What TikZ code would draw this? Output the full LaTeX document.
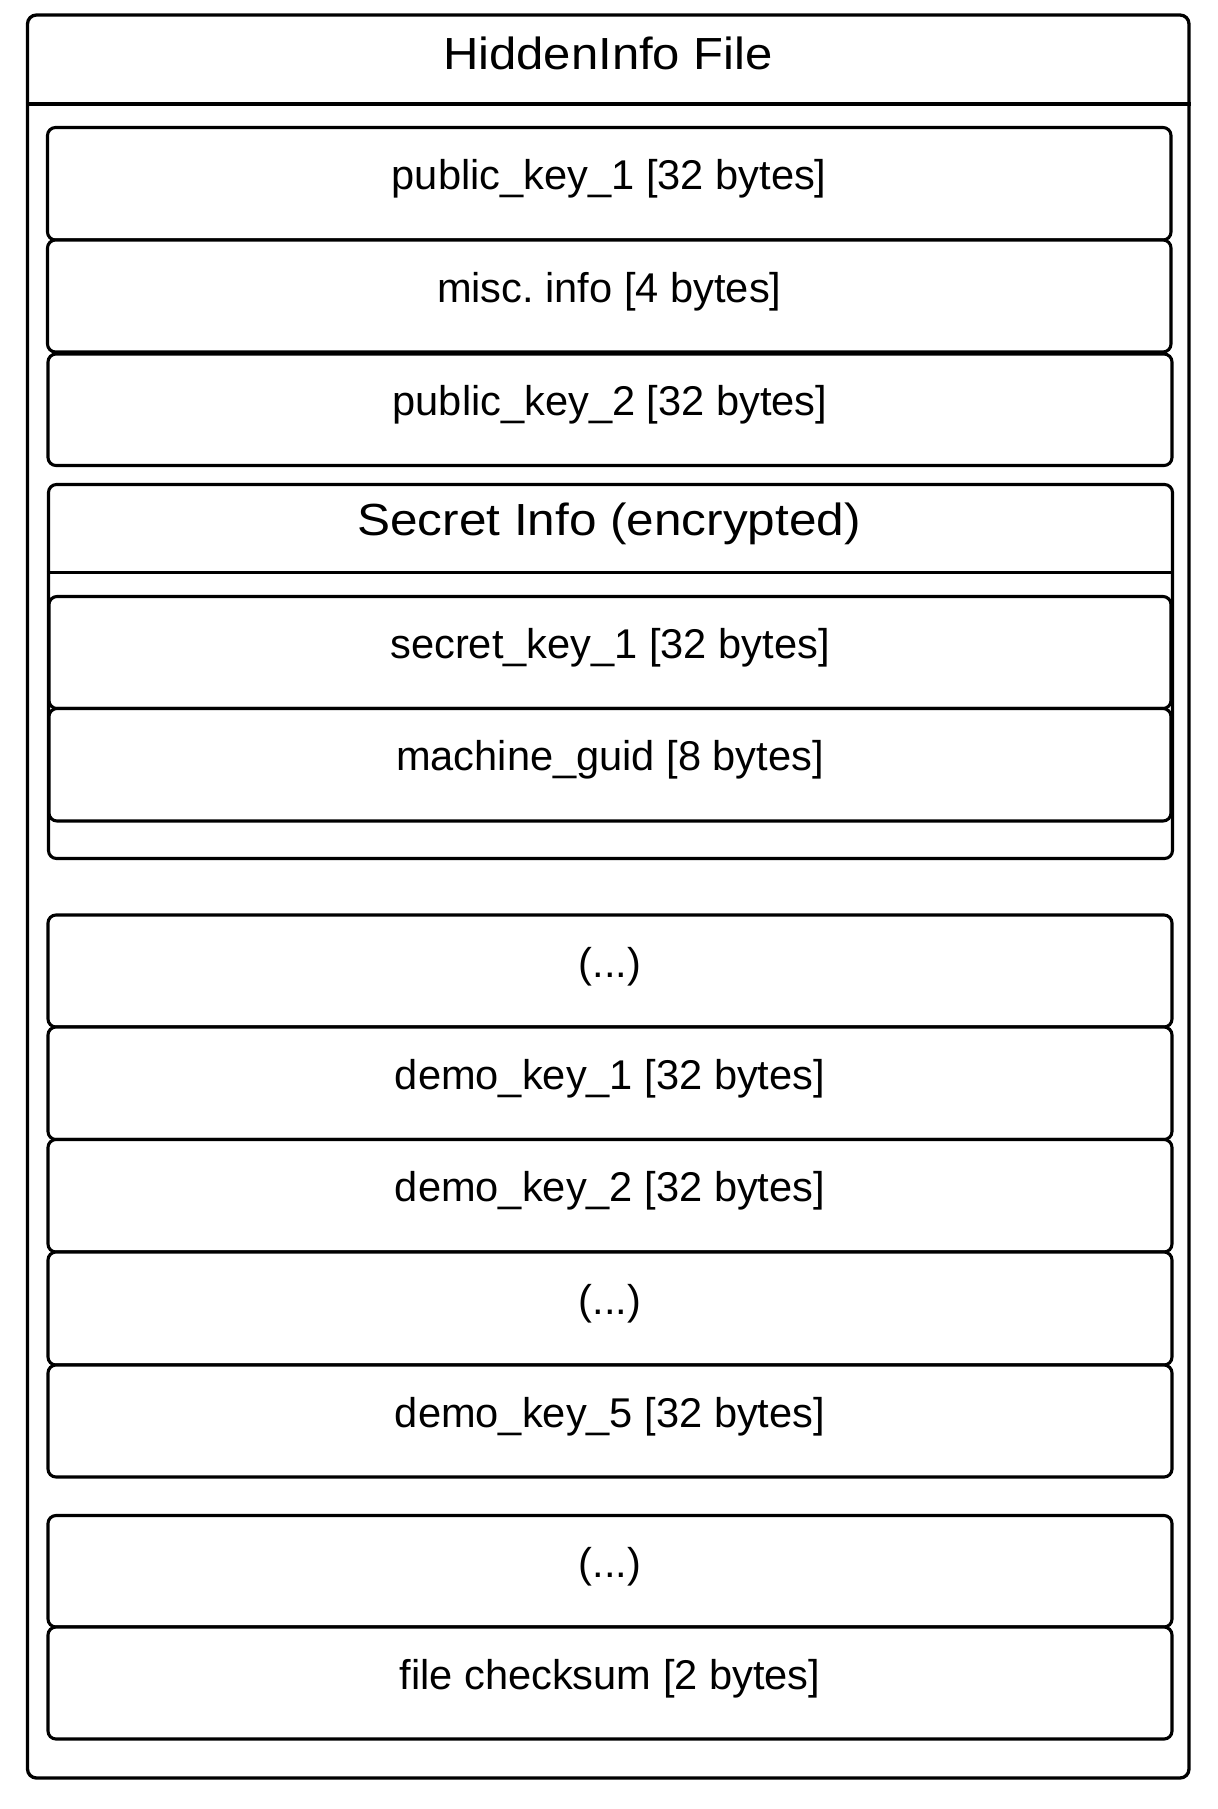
\documentclass[tikz,border=0pt]{standalone}
\usepackage{fontspec}
\usepackage{graphicx}
\setmainfont{Liberation Sans}
\frenchspacing
\usetikzlibrary{fit}
\tikzset{
  cell/.style={draw=black, line width=1.55pt, rounded corners=4pt, inner sep=0pt, fill=white},
  outerbox/.style={draw=black, line width=1.65pt, rounded corners=4.5pt, inner sep=0pt},
  txt/.style={anchor=base, inner sep=0pt, font=\fontsize{20.8pt}{24pt}\selectfont},
  sectxt/.style={anchor=base, inner sep=0pt, font=\fontsize{22.5pt}{26pt}\selectfont},
  rule/.style={draw=black, line width=1.55pt}
}
\begin{document}
\begin{tikzpicture}[x=0.5pt, y=-0.5pt]
\useasboundingbox (0,0) rectangle (1217,1809);
% outer file box
\node[outerbox, fit={(27.5,15) (1189,1778)}] (file) {};
\coordinate (hdrline) at (0,104);
\draw[rule, line width=1.65pt] (file.west |- hdrline) -- (file.east |- hdrline);
\node[sectxt] (title) at (608,70) {\scalebox{1.09}[1]{HiddenInfo File}};

% top group
\node[cell, fit={(47.5,127.5) (1171,240)}] (pk1) {};
\node[txt] (pk1t) at ([yshift=-3pt]pk1.center) {public\_key\_1 [32 bytes]};
\node[cell, fit={(47.5,240) (1171,352)}] (misc) {};
\node[txt] (misct) at ([yshift=-3pt]misc.center) {misc. info [4 bytes]};
\node[cell, fit={(48,354) (1172,465.5)}] (pk2) {};
\node[txt] (pk2t) at ([yshift=-3pt]pk2.center) {public\_key\_2 [32 bytes]};

% secret group
\node[cell, fit={(48.5,484.5) (1172.5,858.5)}] (secret) {};
\coordinate (sechdr) at (0,572.5);
\draw[rule] (secret.west |- sechdr) -- (secret.east |- sechdr);
\node[sectxt] (sect) at (609,535) {\scalebox{1.10}[1]{Secret Info (encrypted)}};
\node[cell, fit={(49,596.5) (1171,708.5)}] (sk1) {};
\node[txt] (sk1t) at ([yshift=-3pt]sk1.center) {secret\_key\_1 [32 bytes]};
\node[cell, fit={(49,708.5) (1171,821)}] (mg) {};
\node[txt] (mgt) at ([yshift=-3pt]mg.center) {machine\_guid [8 bytes]};

% demo group
\node[cell, fit={(48,915) (1172,1027)}] (dots1) {};
\node[txt] (dots1t) at ([yshift=-3pt]dots1.center) {(...)};
\node[cell, fit={(48,1027) (1172,1139.5)}] (dk1) {};
\node[txt] (dk1t) at ([yshift=-3pt]dk1.center) {demo\_key\_1 [32 bytes]};
\node[cell, fit={(48,1139.5) (1172,1252)}] (dk2) {};
\node[txt] (dk2t) at ([yshift=-3pt]dk2.center) {demo\_key\_2 [32 bytes]};
\node[cell, fit={(48,1252) (1172,1365)}] (dots2) {};
\node[txt] (dots2t) at ([yshift=-3pt]dots2.center) {(...)};
\node[cell, fit={(48,1365) (1172,1477)}] (dk5) {};
\node[txt] (dk5t) at ([yshift=-3pt]dk5.center) {demo\_key\_5 [32 bytes]};

% tail group
\node[cell, fit={(48,1515.5) (1172,1627)}] (dots3) {};
\node[txt] (dots3t) at ([yshift=-3pt]dots3.center) {(...)};
\node[cell, fit={(48,1627) (1172,1739)}] (chk) {};
\node[txt] (chkt) at ([yshift=-3pt]chk.center) {file checksum [2 bytes]};
\end{tikzpicture}
\end{document}
